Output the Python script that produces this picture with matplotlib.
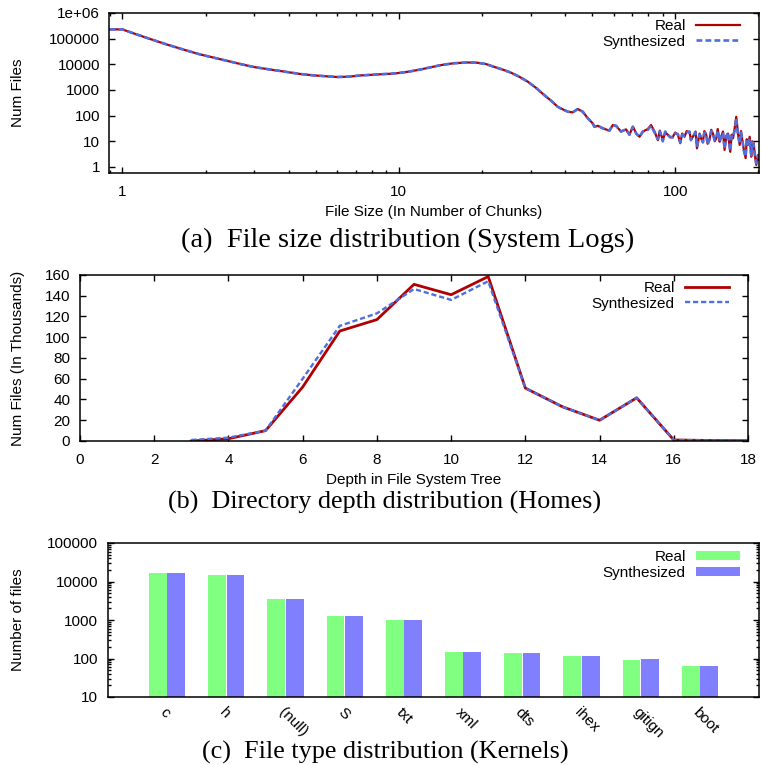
import matplotlib
matplotlib.use("Agg")
import matplotlib.pyplot as plt
from matplotlib.ticker import FixedLocator, LogLocator, NullFormatter
import numpy as np

plt.rcParams.update({'font.family': ['Liberation Sans', 'DejaVu Sans'],
                     'font.size': 11, 'axes.linewidth': 1.1})

# ---- (a) file size distribution, System Logs ----
size_x = [0.9, 1.0, 1.1, 1.25, 1.45, 1.7, 1.92, 2.15, 2.39, 2.7,
          3.0, 3.45, 3.95, 4.4, 4.93, 5.5, 6.0, 6.6, 7.3, 8.0,
          8.6, 9.4, 10.2, 11.0, 12.0, 13.0, 14.2, 15.8, 17.7, 19.3,
          20.7, 22.1, 23.7, 25.5, 27.4, 29.3, 31.4, 33.6, 35.6, 37.6,
          38.6, 40.9, 42.6, 44.4, 46.3, 48.3, 50.3, 51.0, 52.5, 54.7,
          57.8, 59.5, 61.1, 63.7, 66.4, 68.3, 70.3, 72.3, 74.3, 76.4,
          79.6, 81.8, 84.2, 86.6, 88.0, 90.2, 92.0, 94.1, 96.0, 98.1,
          100, 102.3, 104.3, 106, 108.1, 110, 112.7, 114, 115.9, 118.5,
          119.9, 122.5, 124, 126, 127.5, 129.5, 131, 133, 135, 137,
          139, 140.8, 142.5, 144.8, 146.5, 148.9, 150.9, 153, 155.3, 158.2,
          160, 161.8, 164, 166.3, 168.7, 171.1, 173, 174.9, 177, 179.8,
          181.5, 183.4, 186, 188.4, 190, 192.2, 194, 196.5, 199.4, 200]
size_real = [230000, 230000, 160000, 100000, 59000, 35000, 24000, 18000, 13700, 10000,
             7800, 6200, 5000, 4200, 3700, 3400, 3200, 3300, 3700, 3900,
             4100, 4300, 4700, 5300, 6300, 7600, 9300, 11000, 11800, 11500,
             10200, 8000, 6300, 4700, 3200, 2100, 1200, 630, 380, 220,
             190, 142, 134, 181, 142, 79, 50, 37, 40, 32,
             26, 43, 40, 24, 29, 18, 37, 20, 15, 24,
             30, 43, 24, 11, 26, 11, 22, 18, 14, 15,
             22, 18, 8.4, 20, 15, 25, 22, 12, 15, 24,
             5.3, 20, 13, 9.6, 25, 18, 8, 11, 28, 20,
             10, 13, 30, 9.6, 14, 24, 4.6, 16, 20, 3.9,
             18, 13, 30, 90, 20, 7.2, 25, 11, 5, 2.2,
             12, 7.2, 15, 2.5, 10, 8.4, 3, 1.2, 2.9, 1.9]
size_synth = [230000, 230000, 160000, 100000, 59000, 35000, 24000, 18000, 13700, 10000,
              7800, 6200, 5000, 4200, 3700, 3400, 3200, 3300, 3700, 3900,
              4100, 4300, 4700, 5300, 6300, 7600, 9300, 11000, 11800, 11500,
              10200, 8000, 6300, 4700, 3200, 2100, 1200, 630, 380, 220,
              190, 142, 134, 181, 142, 79, 50, 37, 40, 32,
              26, 43, 40, 24, 29, 18, 37, 20, 15, 24,
              28, 40, 22, 12, 24, 10, 24, 17, 15, 14,
              20, 19, 9, 18, 16, 22, 24, 11, 16, 22,
              6, 18, 15, 9, 22, 20, 7.5, 12, 25, 18,
              11, 12, 26, 10, 15, 22, 5, 15, 22, 4.2,
              16, 14, 26, 80, 18, 8, 22, 12, 4.5, 2.5,
              11, 8, 13, 2.8, 9, 7.5, 3.4, 1.4, 2.6, 2.2]
size_yticks = [1, 10, 100, 1000, 10000, 100000, 1e6]
size_ylabels = ['1', '10', '100', '1000', '10000', '100000', '1e+06']

# ---- (b) directory depth distribution, Homes (thousands) ----
depth = [3, 4, 5, 6, 7, 8, 9, 10, 11, 12, 13, 14, 15, 16, 17, 18]
depth_real = [0, 2.2, 10, 52, 106, 117, 151, 141, 158.5, 51, 33, 20, 41.6, 1.0, 0.5, 0.3]
depth_synth = [1, 3.2, 10, 60, 111, 123, 146.5, 136, 154, 51, 33, 20, 41.6, 1.0, 0.5, 0.3]

# ---- (c) file type distribution, Kernels ----
ftypes = ['c', 'h', '(null)', 'S', 'txt', 'xml', 'dts', 'ihex', 'gitign', 'boot']
ftype_real = [16600, 14400, 3500, 1280, 980, 147, 140, 115, 91, 64]
ftype_synth = [16500, 14400, 3500, 1280, 980, 147, 140, 115, 97, 64]

RED = '#b00000'
BLUE = '#4f6ee0'
W, H = 761, 765
fig = plt.figure(figsize=(W / 100, H / 100), dpi=100)


def box(l, t, r, b):
    return [l / W, 1 - b / H, (r - l) / W, (b - t) / H]


def style(ax):
    ax.tick_params(which='both', direction='in', top=True, right=True, width=1.0)
    ax.tick_params(which='major', length=4.5)
    ax.tick_params(which='minor', length=2.2)


def legend(ax, anchor, **kw):
    ax.legend(loc='upper right', bbox_to_anchor=anchor, frameon=False,
              markerfirst=False, borderaxespad=0, borderpad=0,
              handlelength=2.9, handletextpad=0.65, labelspacing=0.12, **kw)


# (a)
ax = fig.add_axes(box(109, 13, 759, 173))
ax.plot(size_x, size_real, color=RED, lw=1.6, label='Real')
ax.plot(size_x, size_synth, color=BLUE, lw=1.9, dashes=(2.2, 1.2), label='Synthesized')
ax.set_xscale('log')
ax.set_yscale('log')
ax.set_xlim(0.895, 201)
ax.set_ylim(0.58, 1e6)
ax.yaxis.set_major_locator(FixedLocator(size_yticks))
ax.set_yticklabels(size_ylabels)
ax.yaxis.set_minor_locator(LogLocator(subs=np.arange(2, 10)))
ax.yaxis.set_minor_formatter(NullFormatter())
ax.set_xticks([1, 10, 100])
ax.set_xticklabels(['1', '10', '100'])
ax.xaxis.set_minor_formatter(NullFormatter())
style(ax)
ax.tick_params(axis='x', pad=8.5)
ax.tick_params(axis='y', pad=6.5)
legend(ax, ((740 - 109) / 650, (173 - 19) / 160))
fig.text(434 / W, 1 - 212 / H, 'File Size (In Number of Chunks)', ha='center', va='center')
fig.text(18 / W, 1 - 93 / H, 'Num Files', ha='center', va='center', rotation=90)

# (b)
ax = fig.add_axes(box(80, 275, 748, 441))
ax.plot(depth, depth_real, color=RED, lw=2.0, label='Real')
ax.plot(depth, depth_synth, color=BLUE, lw=1.7, dashes=(2.2, 1.2), label='Synthesized')
ax.set_xlim(0, 18)
ax.set_ylim(0, 160)
ax.set_xticks(range(0, 19, 2))
ax.set_yticks(range(0, 161, 20))
style(ax)
ax.tick_params(axis='x', pad=8.5)
ax.tick_params(axis='y', pad=7)
legend(ax, ((729 - 80) / 668, (441 - 281) / 166))
fig.text(414 / W, 1 - 480 / H, 'Depth in File System Tree', ha='center', va='center')
fig.text(18 / W, 1 - 358 / H, 'Num Files (In Thousands)', ha='center', va='center', rotation=90)

# (c)
ax = fig.add_axes(box(108, 543, 759, 697))
pos = np.arange(1, len(ftypes) + 1)
ax.bar(pos - 0.155, ftype_real, width=0.3, color='#80ff80', label='Real')
ax.bar(pos + 0.155, ftype_synth, width=0.3, color='#8080ff', label='Synthesized')
ax.set_yscale('log')
ax.set_ylim(10, 100000)
ax.set_xlim(0, 11)
ax.set_yticks([10, 100, 1000, 10000, 100000])
ax.set_yticklabels(['10', '100', '1000', '10000', '100000'])
ax.yaxis.set_minor_locator(LogLocator(subs=np.arange(2, 10)))
ax.yaxis.set_minor_formatter(NullFormatter())
ax.set_xticks(pos)
ax.set_xticklabels(ftypes, rotation=-45, ha='left', va='top', rotation_mode='anchor')
style(ax)
ax.tick_params(axis='x', length=0, top=False, pad=6)
ax.tick_params(axis='y', pad=7)
legend(ax, ((740 - 108) / 651, (697 - 550) / 154), handleheight=0.5)
fig.text(18 / W, 1 - 620 / H, 'Number of files', ha='center', va='center', rotation=90)

# captions
cap = dict(ha='center', va='center', family=['Liberation Serif'])
fig.text(408 / W, 1 - 240 / H, '(a)  File size distribution (System Logs)', size=20.5, **cap)
fig.text(385 / W, 1 - 502 / H, '(b)  Directory depth distribution (Homes)', size=18.8, **cap)
fig.text(385 / W, 1 - 752 / H, '(c)  File type distribution (Kernels)', size=18.8, **cap)

fig.savefig('out.png', dpi=100)
